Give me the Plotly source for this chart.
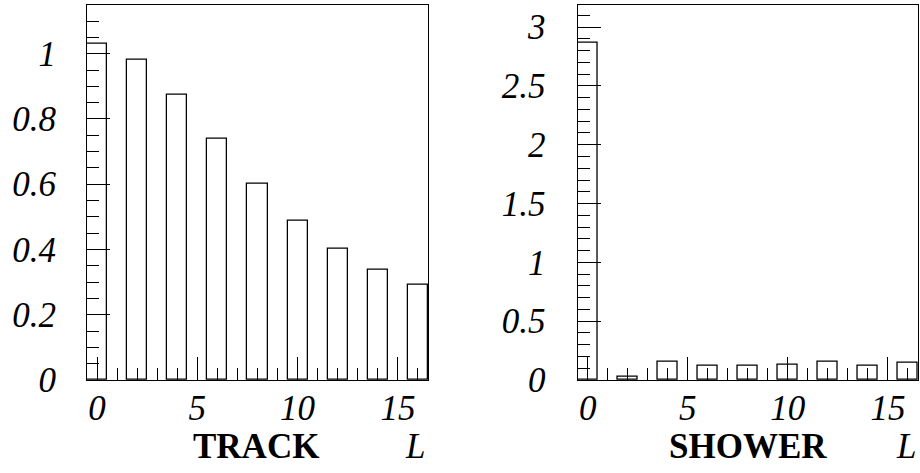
import plotly.graph_objects as go

# Data
L_bins = [0, 2, 4, 6, 8, 10, 12, 14, 16]
track_vals = [1.032, 0.980, 0.873, 0.738, 0.602, 0.489, 0.402, 0.337, 0.292]
shower_vals = [2.864, 0.028, 0.155, 0.119, 0.122, 0.130, 0.158, 0.122, 0.150]
panel_titles = ["TRACK", "SHOWER"]
var_label = "L"

FONT = "Liberation Serif"
fig = go.Figure()

bar_style = dict(marker=dict(color="white", line=dict(color="black", width=1.3)),
                 width=1, showlegend=False)
fig.add_trace(go.Bar(x=L_bins, y=track_vals, xaxis="x", yaxis="y", **bar_style))
fig.add_trace(go.Bar(x=L_bins, y=shower_vals, xaxis="x2", yaxis="y2", **bar_style))

tickfont = dict(family=FONT, size=35, color="black", style="italic")

def xaxis(domain, anchor):
    return dict(domain=domain, anchor=anchor, range=[-0.5, 16.5], showgrid=False,
                zeroline=False, showline=True, linecolor="black", linewidth=1.3,
                mirror=True, ticks="inside", tick0=0, dtick=5, ticklen=23,
                tickwidth=1.2, tickcolor="black", tickfont=tickfont,
                ticklabelstandoff=-3, automargin=False,
                minor=dict(ticks="inside", dtick=1, tick0=0, ticklen=12,
                           tickwidth=1.2, tickcolor="black", showgrid=False))

def yaxis(domain, anchor, rng, dtick, mdtick, standoff):
    return dict(domain=domain, anchor=anchor, range=rng, showgrid=False,
                zeroline=False, showline=True, linecolor="black", linewidth=1.3,
                mirror=True, ticks="inside", tick0=0, dtick=dtick, ticklen=23,
                tickwidth=1.2, tickcolor="black", tickfont=tickfont,
                ticklabelstandoff=standoff, automargin=False,
                minor=dict(ticks="inside", dtick=mdtick, tick0=0, ticklen=12,
                           tickwidth=1.2, tickcolor="black", showgrid=False))

ydom = [0.1966, 0.990]
fig.update_layout(
    width=920, height=473,
    margin=dict(l=0, r=0, t=0, b=0, autoexpand=False),
    paper_bgcolor="white", plot_bgcolor="white",
    xaxis=xaxis([0.0946, 0.4652], "y"),
    yaxis=yaxis(ydom, "x", [0, 1.15], 0.2, 0.05, 23),
    xaxis2=xaxis([0.6279, 0.9978], "y2"),
    yaxis2=yaxis(ydom, "x2", [0, 3.19], 0.5, 0.1, 24),
    bargap=0,
)

annots = [
    dict(text="<b>%s</b>" % panel_titles[0], x=0.2788, xanchor="center"),
    dict(text="<i>%s</i>" % var_label, x=0.4645, xanchor="right"),
    dict(text="<b>%s</b>" % panel_titles[1], x=0.813, xanchor="center"),
    dict(text="<i>%s</i>" % var_label, x=0.998, xanchor="right"),
]
for a in annots:
    fig.add_annotation(xref="paper", yref="paper", y=0.057, yanchor="middle",
                       showarrow=False, font=dict(family=FONT, size=35, color="black"),
                       **a)

fig.write_html("out.html")
